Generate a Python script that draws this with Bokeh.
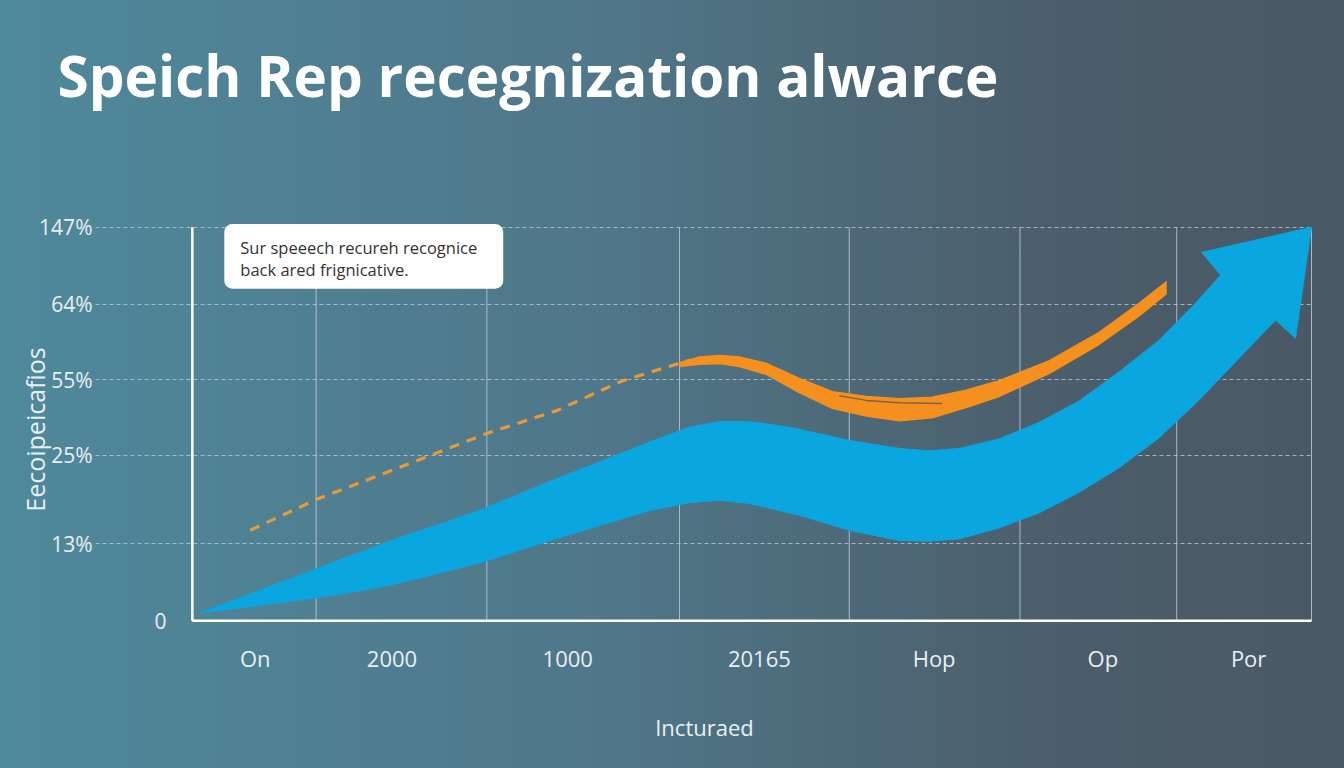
from bokeh.plotting import figure
from bokeh.models import Range1d, FixedTicker, Label, Title, GlobalInlineStyleSheet
from bokeh.embed import file_html
from bokeh.resources import INLINE

# ---------------- data ----------------
title_text = "Speich Rep recegnization alwarce"
note_text = "Sur speeech recureh recognice\nback ared frignicative."
x_axis_title = "Incturaed"
y_axis_title = "Eecoipeicafios"

x_labels = ["On", "2000", "1000", "20165", "Hop", "Op", "Por"]
x_label_pos = [6.3, 20.0, 37.6, 56.8, 74.3, 91.2, 105.8]
x_edges = [12.4, 29.5, 48.8, 65.8, 82.9, 98.6, 112.1]

y_zero_label = "0"
y_labels = ["13%", "25%", "55%", "64%", "147%"]
y_label_pos = [0.98, 2.10, 3.06, 4.02, 5.00]

# blue ribbon: upper edge (left->right), arrow head, lower edge (right->left)
blue_up_x = [0.8, 5.8, 12.4, 16.8, 20.8, 25.8, 29.5, 34.8, 40.8, 45.8, 49.8, 52.8, 55.8, 59.8,
             65.8, 70.8, 73.8, 76.8, 80.8, 84.8, 88.8, 92.8, 96.8, 100.3, 103.0]
blue_up_y = [0.10, 0.34, 0.66, 0.87, 1.06, 1.27, 1.44, 1.72, 2.02, 2.27, 2.46, 2.53, 2.53, 2.46,
             2.29, 2.19, 2.16, 2.19, 2.31, 2.52, 2.79, 3.16, 3.56, 4.01, 4.39]
head_x = [101.1, 112.1, 110.5, 108.5]
head_y = [4.68, 5.00, 3.59, 3.82]
blue_lo_x = [104.8, 100.8, 96.8, 92.8, 88.8, 84.8, 80.8, 76.8, 73.8, 70.8, 65.8, 60.8, 55.8,
             52.8, 49.8, 45.8, 40.8, 34.8, 29.5, 25.8, 20.8, 16.8, 12.4, 5.8]
blue_lo_y = [3.33, 2.80, 2.32, 1.94, 1.63, 1.37, 1.18, 1.04, 1.01, 1.02, 1.15, 1.34, 1.49,
             1.53, 1.50, 1.40, 1.21, 0.98, 0.76, 0.64, 0.48, 0.38, 0.29, 0.18]

# orange dashed trend
trend_x = [5.8, 12.4, 20.8, 29.5, 36.5, 43.1, 49.8]
trend_y = [1.15, 1.54, 1.95, 2.38, 2.67, 3.05, 3.31]

# orange solid band
orange_x = [48.8, 50.8, 52.8, 54.8, 57.5, 60.8, 64.1, 67.5, 70.8, 74.1, 77.5, 80.8, 85.8, 90.8, 94.8, 97.6]
orange_top = [3.28, 3.35, 3.37, 3.35, 3.27, 3.08, 2.91, 2.85, 2.82, 2.84, 2.93, 3.05, 3.30, 3.66, 4.03, 4.31]
orange_bot = [3.23, 3.26, 3.27, 3.23, 3.13, 2.90, 2.70, 2.60, 2.54, 2.58, 2.71, 2.85, 3.14, 3.51, 3.87, 4.16]
orange_inner_x = [64.8, 67.5, 70.8, 75.1]
orange_inner_y = [2.86, 2.80, 2.77, 2.76]

# ---------------- styles ----------------
GRAD = "linear-gradient(90deg, #4f899c 0%, #4f7789 45%, #4b5e6b 78%, #4a5864 100%) fixed"
page_css = GlobalInlineStyleSheet(css="html, body { background: %s; min-height: 100%%; }" % GRAD)

TXT = "#e9eff3"
GRID = "#c3d0d8"
FONT = "Open Sans"

p = figure(width=1328, height=752,
           x_range=Range1d(-9.7, 112.3), y_range=Range1d(-0.2, 5.06),
           output_backend="svg", toolbar_location=None,
           min_border_left=95, min_border_right=15, min_border_top=222, min_border_bottom=116,
           background_fill_color=None, border_fill_color=None, outline_line_color=None,
           styles={"background": GRAD},
           stylesheets=[page_css])

# spacer panel between title and plot area, then the title itself (outermost)
p.add_layout(Title(text=" ", text_font_size="2px", standoff=100), "above")
p.title.text = title_text
p.title.text_font = FONT
p.title.text_font_style = "bold"
p.title.text_font_size = "56.6px"
p.title.text_color = "white"
p.title.align = "left"
p.title.offset = -38
p.title.standoff = 10

# axes
xa = p.xaxis[0]
xa.ticker = FixedTicker(ticks=x_label_pos)
xa.major_label_overrides = {pos: lab for pos, lab in zip(x_label_pos, x_labels)}
xa.axis_line_color = None
xa.major_tick_line_color = None
xa.minor_tick_line_color = None
xa.major_label_standoff = 0
xa.major_label_text_font = FONT
xa.major_label_text_font_size = "22px"
xa.major_label_text_color = TXT
xa.axis_label = x_axis_title
xa.axis_label_text_font = FONT
xa.axis_label_text_font_style = "normal"
xa.axis_label_text_font_size = "22px"
xa.axis_label_text_color = TXT
xa.axis_label_standoff = 36

ya = p.yaxis[0]
ya.ticker = FixedTicker(ticks=y_label_pos)
ya.major_label_overrides = {pos: lab for pos, lab in zip(y_label_pos, y_labels)}
ya.axis_line_color = None
ya.major_tick_line_color = None
ya.minor_tick_line_color = None
ya.major_label_standoff = -3
ya.major_label_text_font = FONT
ya.major_label_text_font_size = "21px"
ya.major_label_text_color = TXT
ya.axis_label = y_axis_title
ya.axis_label_text_font = FONT
ya.axis_label_text_font_style = "normal"
ya.axis_label_text_font_size = "25px"
ya.axis_label_text_color = TXT
ya.axis_label_standoff = -16

# grids: dashed horizontal grid from the axis ticks, solid vertical band dividers
p.xgrid.visible = False
p.ygrid.ticker = FixedTicker(ticks=y_label_pos)
p.ygrid.grid_line_color = GRID
p.ygrid.grid_line_alpha = 0.75
p.ygrid.grid_line_width = 1
p.ygrid.grid_line_dash = "4 3"
p.segment(x0=x_edges, y0=[0] * len(x_edges), x1=x_edges, y1=[y_label_pos[-1]] * len(x_edges),
          line_color=GRID, line_alpha=0.8, line_width=1)

# axis frame lines (L shape)
p.segment(x0=[0, 0], y0=[0, 0], x1=[0, x_edges[-1]], y1=[y_label_pos[-1], 0],
          line_color="white", line_width=2.5)

# blue ribbon with arrow head
p.patch(blue_up_x + head_x + blue_lo_x, blue_up_y + head_y + blue_lo_y,
        fill_color="#0aa6df", line_color="#0aa6df", line_width=1, line_join="round")

# orange dashed trend
p.line(trend_x, trend_y, line_color="#e99a36", line_width=3.2, line_dash="10 8")

# orange solid band
p.varea(x=orange_x, y1=orange_bot, y2=orange_top, fill_color="#f5901e")
p.line(orange_x, orange_top, line_color="#f5901e", line_width=1.5, line_join="round")
p.line(orange_x, orange_bot, line_color="#f5901e", line_width=1.5, line_join="round")
p.line(orange_inner_x, orange_inner_y, line_color="#5a5a58", line_width=1.5, line_alpha=0.8)

# zero label
p.add_layout(Label(x=-3.2, y=0, text=y_zero_label, text_align="center", text_baseline="middle",
                   text_font=FONT, text_font_size="21px", text_color=TXT))

# note box
p.add_layout(Label(x=3.2, y=5.04, text=note_text, anchor="top_left",
                   padding=(16, 26, 12, 8), border_radius=8,
                   background_fill_color="white", background_fill_alpha=1.0,
                   text_font=FONT, text_font_size="16.5px", text_color="#333333",
                   text_line_height=0.94))

open("out.html", "w").write(file_html(p, INLINE))
